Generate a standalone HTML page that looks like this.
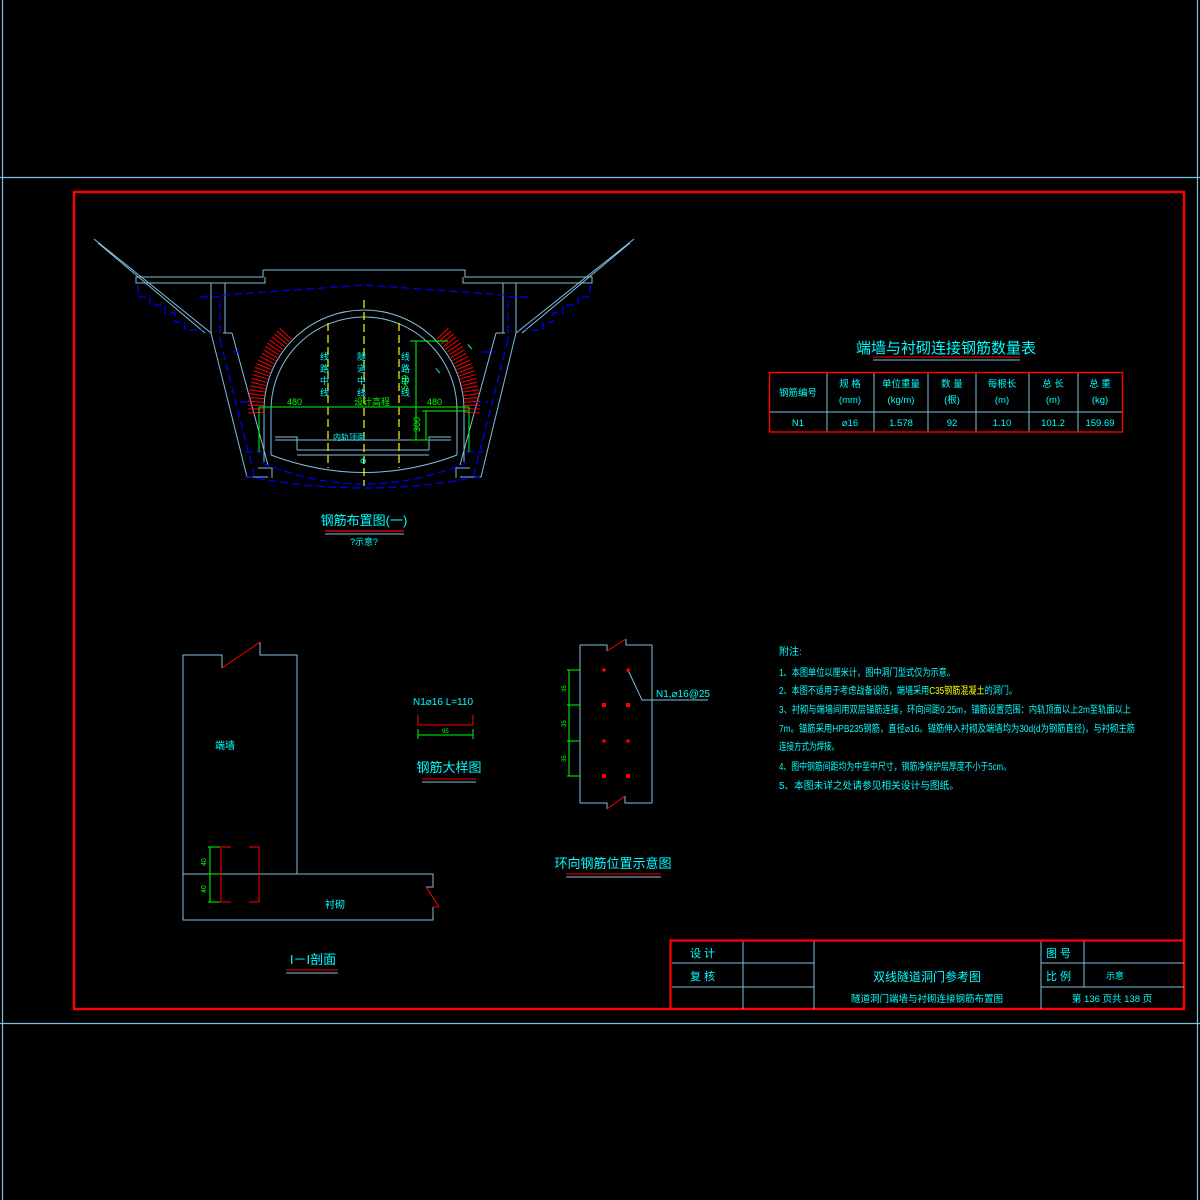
<!DOCTYPE html>
<html><head><meta charset="utf-8"><style>
html,body{margin:0;padding:0;background:#000;}
svg{display:block}
text{font-family:"Liberation Sans","Noto Sans CJK SC",sans-serif;fill:#00ffff}
</style></head><body>
<svg width="1200" height="1200" viewBox="0 0 1200 1200" xmlns="http://www.w3.org/2000/svg">
<rect width="1200" height="1200" fill="#000"/>
<g stroke="#7fbfdf" stroke-width="1.2" fill="none">
<line x1="2.5" y1="0" x2="2.5" y2="1200"/>
<line x1="1197.5" y1="0" x2="1197.5" y2="1200"/>
<line x1="0" y1="177.5" x2="1200" y2="177.5"/>
<line x1="0" y1="1023.5" x2="1200" y2="1023.5"/>
</g>
<rect x="74" y="192" width="1110" height="817" fill="none" stroke="#ff0000" stroke-width="2.4"/>

<!-- Tunnel portal drawing -->
<g fill="none" stroke="#7fbfdf" stroke-width="1">
<path d="M94 239 L211 333 M98 243 L205 333"/>
<path d="M634 239 L516 333 M630 243 L522 333"/>
<path d="M263 270 H465 V277 H592 V283 H463 V277 M263 270 V277 H136 V283 H265 V277"/>
<path d="M211 283 V333 L247 477 H268 M232 333 L268 465 M225 283 V333 M232 333 H223"/>
<path d="M516 283 V333 L481 477 H460 M496 333 L460 465 M503 283 V333 M496 333 H505"/>
<path d="M264 410 A100 100 0 0 1 464 410"/>
<path d="M271 410 A93 93 0 0 1 457 410"/>
<path d="M264 410 V462 M271 410 V455 M464 410 V462 M457 410 V455"/>
<path d="M271 455 Q364 490 457 455"/>
<path d="M275 440 H451 M275 437 H297 V450 M451 437 H429 V450 M297 450 H429 M297 455 H429"/>
<path d="M258 468 H272 V478 M470 468 H456 V478"/>
</g>
<g fill="none" stroke="#0000ff" stroke-width="1.2" stroke-dasharray="8 4">
<path d="M138 285 V297 H150 V305 H165 V313 H175 V322 H185 V330 H202 M200 297 H220 V340"/>
<path d="M590 285 V297 H578 V305 H563 V313 H553 V322 H543 V330 H526 M528 297 H508 V340"/>
<path d="M222 295 L364 285 L506 295"/>
<path d="M220 340 L255 478 M508 340 L473 478"/>
<path d="M245 476 Q364 500 483 476"/>
<path d="M262 463 Q364 505 466 463"/>
<path d="M232 352 H245 M482 352 H496 M240 402 H255 M473 402 H488 M245 452 H262 M466 452 H483"/>
</g>
<!-- red hatch -->
<g fill="none" stroke="#ff0000" stroke-width="16" stroke-dasharray="1 2.6">
<path d="M256 413 A108 108 0 0 1 287 332"/>
<path d="M472 413 A108 108 0 0 0 441 332"/>
</g>
<!-- yellow center lines -->
<g stroke="#ffff00" stroke-width="1.2" stroke-dasharray="8 4">
<line x1="364" y1="300" x2="364" y2="486"/>
<line x1="328" y1="323" x2="328" y2="468"/>
<line x1="399" y1="323" x2="399" y2="468"/>
</g>
<!-- green dims -->
<g stroke="#00ff00" stroke-width="1" fill="none">
<path d="M259 407 H469 M259 407 V452 M469 407 V452 M416 341 V440 M410 341 H448 M410 440 H430 M426 411 V440 M422 411 H468"/>
</g>
<g font-size="9">
<text x="287" y="405" style="fill:#00ff00">480</text>
<text x="427" y="405" style="fill:#00ff00">480</text>
<text x="354" y="405" style="fill:#00ff00">设计高程</text>
<text x="420" y="432" style="fill:#00ff00" transform="rotate(-90 420 432)">300</text>
<text x="408" y="390" style="fill:#00ff00" transform="rotate(-90 408 390)">560</text>
</g>
<g font-size="9">
<text x="320" y="360">线</text><text x="320" y="372">路</text><text x="320" y="384">中</text><text x="320" y="396">线</text>
<text x="357" y="360">隧</text><text x="357" y="372">道</text><text x="357" y="384">中</text><text x="357" y="396">线</text>
<text x="401" y="360">线</text><text x="401" y="372">路</text><text x="401" y="384">中</text><text x="401" y="396">线</text>
<text x="333" y="440" font-size="8">内轨顶面</text>
<text x="360" y="464" font-size="8">Φ</text>
<text x="468" y="348" font-size="9" transform="rotate(-40 472 345)">I</text>
<text x="436" y="372" font-size="9" transform="rotate(-40 440 369)">I</text>
</g>
<text x="364" y="525" text-anchor="middle" font-size="13">钢筋布置图(一)</text>
<line x1="325" y1="531" x2="404" y2="531" stroke="#ff0000" stroke-width="1.2"/>
<line x1="325" y1="534" x2="404" y2="534" stroke="#7fbfdf" stroke-width="1"/>
<text x="364" y="545" text-anchor="middle" font-size="9">?示意?</text>

<!-- Table -->
<text x="946" y="353" text-anchor="middle" font-size="15">端墙与衬砌连接钢筋数量表</text>
<line x1="873" y1="357" x2="1020" y2="357" stroke="#ff0000" stroke-width="1"/>
<line x1="873" y1="360" x2="1020" y2="360" stroke="#7fbfdf" stroke-width="1"/>
<g stroke="#7fbfdf" stroke-width="1">
<line x1="769" y1="412" x2="1123" y2="412"/>
<line x1="827" y1="372" x2="827" y2="432"/><line x1="874" y1="372" x2="874" y2="432"/>
<line x1="928" y1="372" x2="928" y2="432"/><line x1="976" y1="372" x2="976" y2="432"/>
<line x1="1029" y1="372" x2="1029" y2="432"/><line x1="1078" y1="372" x2="1078" y2="432"/>
</g>
<rect x="769.5" y="372.5" width="353" height="59.5" fill="none" stroke="#ff0000" stroke-width="1.4"/>
<g font-size="9.5" text-anchor="middle">
<text x="798" y="396">钢筋编号</text>
<text x="850" y="387">规 格</text><text x="850" y="403">(mm)</text>
<text x="901" y="387">单位重量</text><text x="901" y="403">(kg/m)</text>
<text x="952" y="387">数 量</text><text x="952" y="403">(根)</text>
<text x="1002" y="387">每根长</text><text x="1002" y="403">(m)</text>
<text x="1053" y="387">总 长</text><text x="1053" y="403">(m)</text>
<text x="1100" y="387">总 重</text><text x="1100" y="403">(kg)</text>
<text x="798" y="426">N1</text><text x="850" y="426">⌀16</text><text x="901" y="426">1.578</text>
<text x="952" y="426">92</text><text x="1002" y="426">1.10</text><text x="1053" y="426">101.2</text><text x="1100" y="426">159.69</text>
</g>

<!-- Notes -->
<g font-size="10">
<text x="779" y="655">附注:</text>
<text x="779" y="676" textLength="176" lengthAdjust="spacingAndGlyphs">1、本图单位以厘米计，图中洞门型式仅为示意。</text>
<text x="779" y="694" textLength="238" lengthAdjust="spacingAndGlyphs">2、本图不适用于考虑战备设防，端墙采用<tspan style="fill:#ffff00">C35钢筋混凝土</tspan>的洞门。</text>
<text x="779" y="713" textLength="352" lengthAdjust="spacingAndGlyphs">3、衬砌与端墙间用双层锚筋连接，环向间距0.25m，锚筋设置范围：内轨顶面以上2m至轨面以上</text>
<text x="779" y="732" textLength="356" lengthAdjust="spacingAndGlyphs">7m。锚筋采用HPB235钢筋，直径⌀16。锚筋伸入衬砌及端墙均为30d(d为钢筋直径)，与衬砌主筋</text>
<text x="779" y="750" textLength="60" lengthAdjust="spacingAndGlyphs">连接方式为焊接。</text>
<text x="779" y="770" textLength="232" lengthAdjust="spacingAndGlyphs">4、图中钢筋间距均为中至中尺寸，钢筋净保护层厚度不小于5cm。</text>
<text x="779" y="789" textLength="180" lengthAdjust="spacingAndGlyphs">5、本图未详之处请参见相关设计与图纸。</text>
</g>

<!-- I-I section -->
<g fill="none" stroke="#7fbfdf" stroke-width="1">
<path d="M222 668 V655 H183 V920 H433 V907 M260 642 V655 H297 V874 H183 M297 874 H433 V887 H426"/>
</g>
<g fill="none" stroke="#ff0000" stroke-width="1">
<path d="M222 668 L260 642 M426 887 L439 907 M433 907 H439"/>
<path d="M231 847 H221 V902 H231 M249 847 H259 V902 H249"/>
</g>
<g fill="none" stroke="#00ff00" stroke-width="1">
<path d="M210 847 V902 M208 847 H220 M208 874 H220 M208 902 H220"/>
</g>
<text x="206" y="866" font-size="7" style="fill:#00ff00" transform="rotate(-90 206 866)">40</text>
<text x="206" y="893" font-size="7" style="fill:#00ff00" transform="rotate(-90 206 893)">40</text>
<text x="215" y="749" font-size="10">端墙</text>
<text x="325" y="908" font-size="10">衬砌</text>
<text x="313" y="964" text-anchor="middle" font-size="13">I－I剖面</text>
<line x1="286" y1="970" x2="338" y2="970" stroke="#ff0000" stroke-width="1"/>
<line x1="286" y1="973" x2="338" y2="973" stroke="#7fbfdf" stroke-width="1"/>

<!-- Rebar detail -->
<text x="413" y="705" font-size="10">N1⌀16 L=110</text>
<path d="M418 715 V725 H473 V715" fill="none" stroke="#ff0000" stroke-width="1"/>
<path d="M418 729 V739 M473 729 V739 M418 735 H473" fill="none" stroke="#00ff00" stroke-width="1"/>
<text x="442" y="733" font-size="6" style="fill:#00ff00">95</text>
<text x="449" y="772" text-anchor="middle" font-size="13">钢筋大样图</text>
<line x1="422" y1="779" x2="476" y2="779" stroke="#ff0000" stroke-width="1"/>
<line x1="422" y1="782" x2="476" y2="782" stroke="#7fbfdf" stroke-width="1"/>

<!-- Ring rebar -->
<g fill="none" stroke="#7fbfdf" stroke-width="1">
<path d="M607 651 V645 H580 V803 H607 V809 M626 639 V645 H652 V803 H625 V796"/>
<path d="M628 670 L642 700 H708"/>
</g>
<g fill="none" stroke="#ff0000" stroke-width="1"><path d="M607 651 L626 639 M607 809 L625 796"/></g>
<g fill="#ff0000">
<circle cx="604" cy="670" r="1.8"/><circle cx="628" cy="670" r="1.8"/>
<rect x="602" y="703" width="4" height="4"/><rect x="626" y="703" width="4" height="4"/>
<circle cx="604" cy="741" r="1.8"/><circle cx="628" cy="741" r="1.8"/>
<rect x="602" y="774" width="4" height="4"/><rect x="626" y="774" width="4" height="4"/>
</g>
<g fill="none" stroke="#00ff00" stroke-width="1">
<path d="M569 670 V776 M567 670 H580 M567 705 H580 M567 741 H580 M567 776 H580"/>
</g>
<text x="566" y="692" font-size="6" style="fill:#00ff00" transform="rotate(-90 566 692)">35</text>
<text x="566" y="727" font-size="6" style="fill:#00ff00" transform="rotate(-90 566 727)">35</text>
<text x="566" y="762" font-size="6" style="fill:#00ff00" transform="rotate(-90 566 762)">35</text>
<text x="656" y="697" font-size="10">N1,⌀16@25</text>
<text x="613" y="868" text-anchor="middle" font-size="13">环向钢筋位置示意图</text>
<line x1="566" y1="874" x2="661" y2="874" stroke="#ff0000" stroke-width="1"/>
<line x1="566" y1="877" x2="661" y2="877" stroke="#7fbfdf" stroke-width="1"/>

<!-- Title block -->
<g stroke="#7fbfdf" stroke-width="1">
<line x1="672" y1="963" x2="814" y2="963"/><line x1="672" y1="987" x2="814" y2="987"/>
<line x1="1041" y1="963" x2="1184" y2="963"/><line x1="1041" y1="987" x2="1184" y2="987"/>
<line x1="743" y1="940" x2="743" y2="1009"/><line x1="814" y1="940" x2="814" y2="1009"/>
<line x1="1041" y1="940" x2="1041" y2="1009"/><line x1="1084" y1="940" x2="1084" y2="987"/>
</g>
<path d="M670.5 1009 V940.5 H1184" fill="none" stroke="#ff0000" stroke-width="2.2"/>
<g font-size="11">
<text x="690" y="957">设 计</text>
<text x="690" y="980">复 核</text>
<text x="1046" y="957">图 号</text>
<text x="1046" y="980">比 例</text>
<text x="927" y="981" text-anchor="middle" font-size="12">双线隧道洞门参考图</text>
<text x="927" y="1002" text-anchor="middle" font-size="9.5">隧道洞门端墙与衬砌连接钢筋布置图</text>
<text x="1106" y="979" font-size="9">示意</text>
<text x="1112" y="1002" text-anchor="middle" font-size="9.5">第 136 页共 138 页</text>
</g>
</svg>
</body></html>
